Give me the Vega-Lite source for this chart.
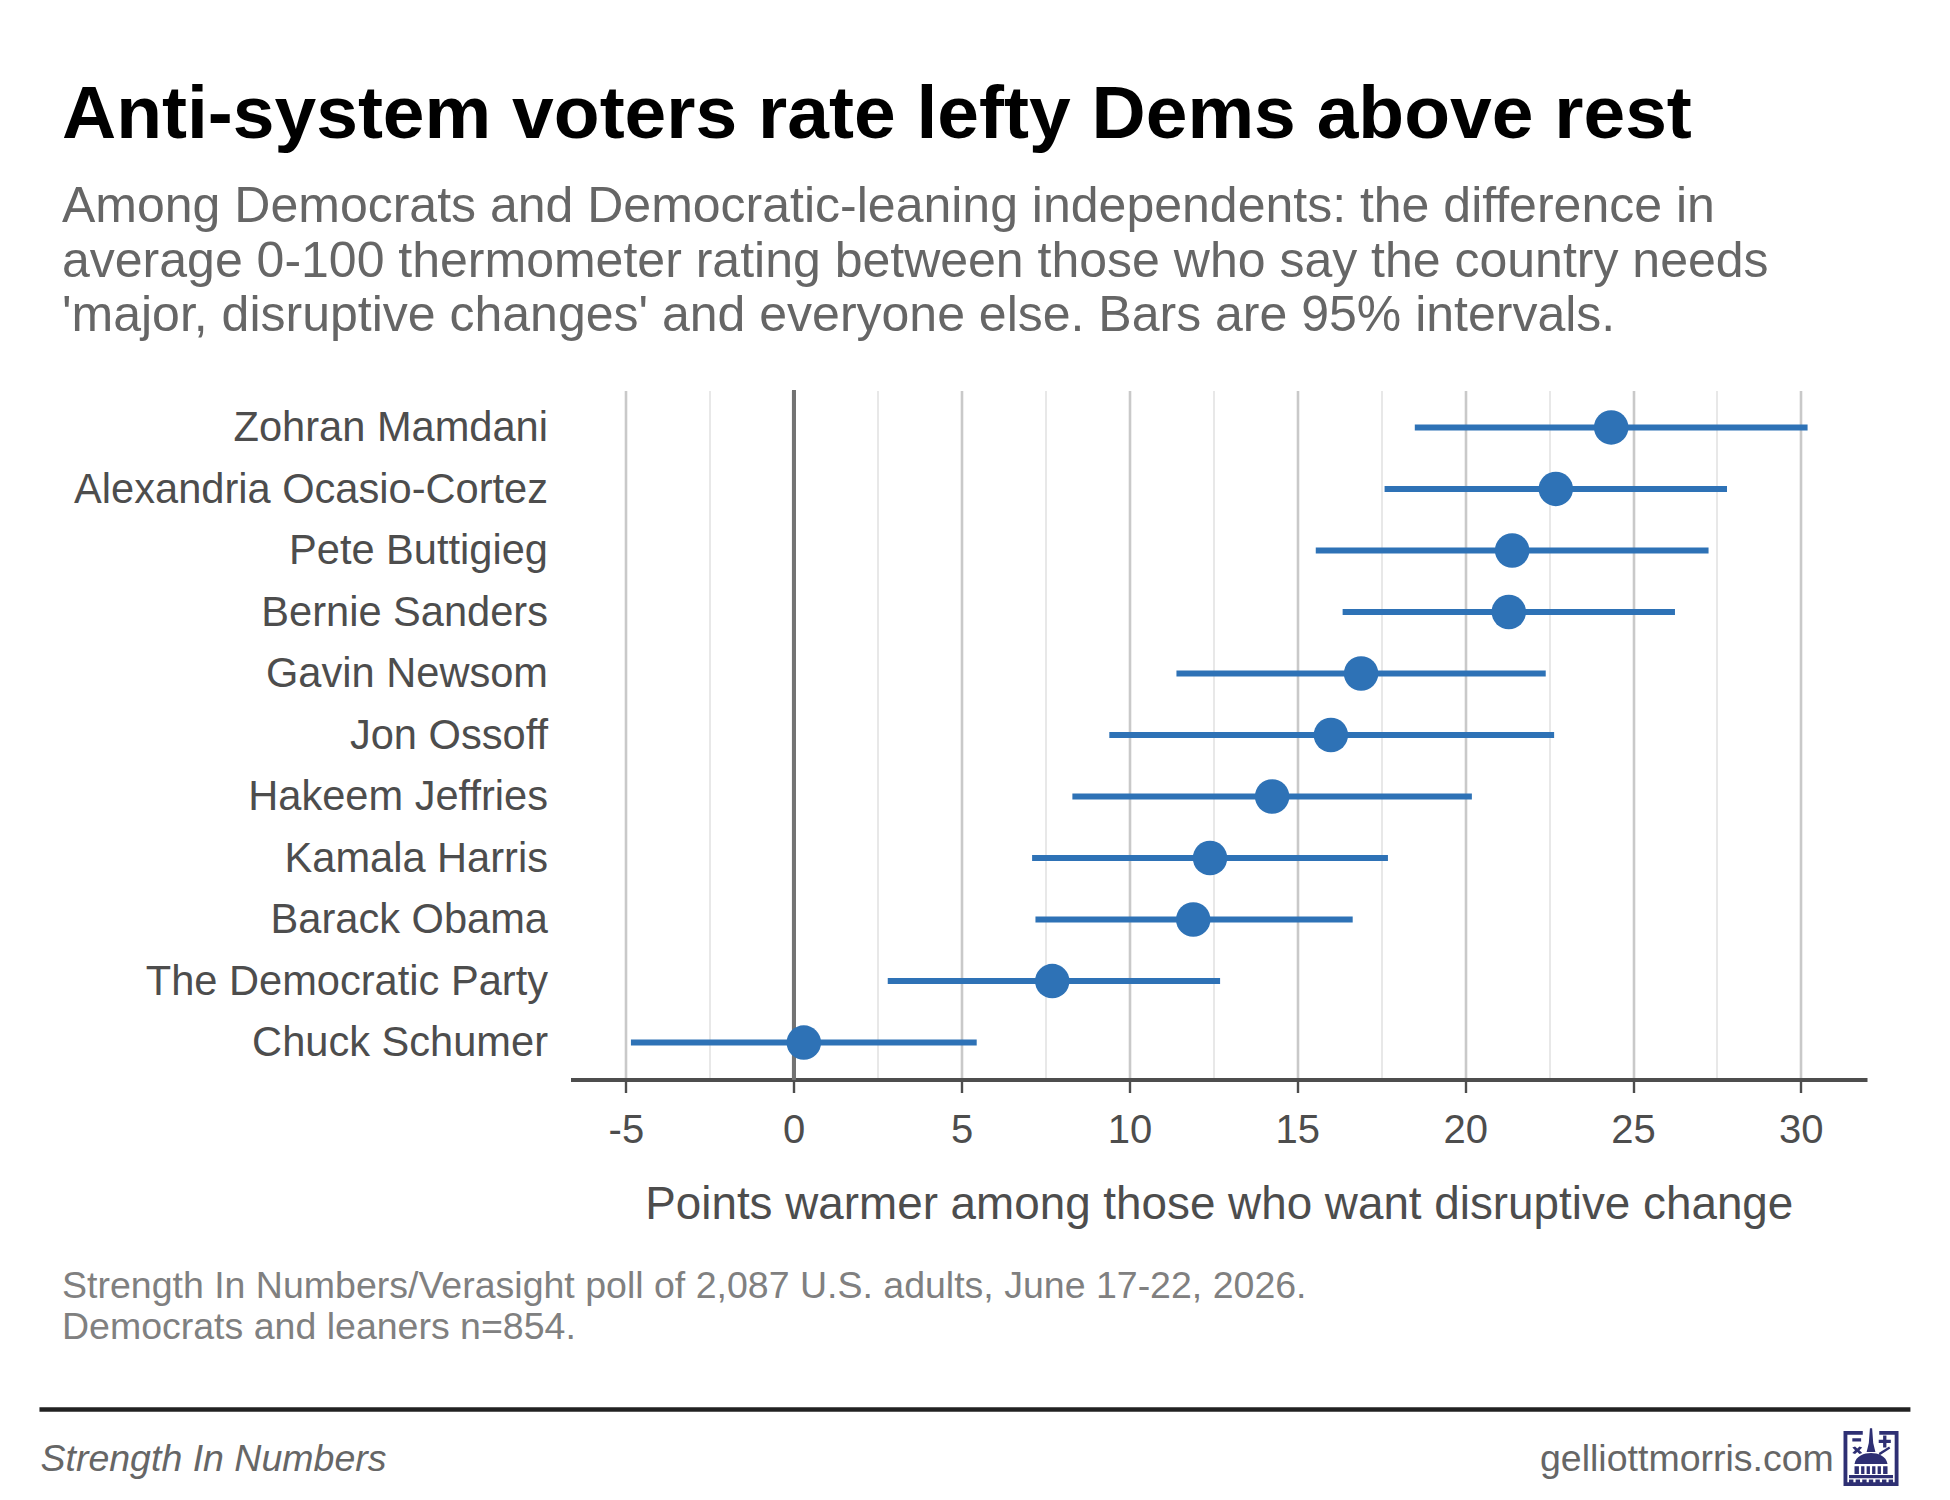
{
  "$schema": "https://vega.github.io/schema/vega-lite/v6.json",
  "background": "white",
  "padding": {"left": 36.5, "top": 77.5, "right": 0, "bottom": 0},
  "config": {
    "font": "Liberation Sans",
    "view": {"stroke": null},
    "concat": {"spacing": 40}
  },
  "title": {
    "text": "Anti-system voters rate lefty Dems above rest",
    "subtitle": [
      "Among Democrats and Democratic-leaning independents: the difference in",
      "average 0-100 thermometer rating between those who say the country needs",
      "'major, disruptive changes' and everyone else. Bars are 95% intervals."
    ],
    "anchor": "start",
    "frame": "group",
    "dx": -508.5,
    "fontSize": 75,
    "fontWeight": "bold",
    "color": "#000000",
    "subtitleFontSize": 50,
    "subtitleColor": "#666666",
    "subtitleLineHeight": 54.7,
    "subtitlePadding": 28.3,
    "offset": 46.5
  },
  "vconcat": [
    {
      "width": 1296.5,
      "height": 689,
      "data": {
        "values": [
          {"name": "Zohran Mamdani", "low": 18.5, "diff": 24.35, "high": 30.2},
          {"name": "Alexandria Ocasio-Cortez", "low": 17.6, "diff": 22.7, "high": 27.8},
          {"name": "Pete Buttigieg", "low": 15.55, "diff": 21.4, "high": 27.25},
          {"name": "Bernie Sanders", "low": 16.35, "diff": 21.3, "high": 26.25},
          {"name": "Gavin Newsom", "low": 11.4, "diff": 16.9, "high": 22.4},
          {"name": "Jon Ossoff", "low": 9.4, "diff": 16.0, "high": 22.65},
          {"name": "Hakeem Jeffries", "low": 8.3, "diff": 14.25, "high": 20.2},
          {"name": "Kamala Harris", "low": 7.1, "diff": 12.4, "high": 17.7},
          {"name": "Barack Obama", "low": 7.2, "diff": 11.9, "high": 16.65},
          {"name": "The Democratic Party", "low": 2.8, "diff": 7.7, "high": 12.7},
          {"name": "Chuck Schumer", "low": -4.85, "diff": 0.3, "high": 5.45}
        ]
      },
      "encoding": {
        "y": {
          "field": "name",
          "type": "nominal",
          "sort": null,
          "title": null,
          "scale": {"type": "point", "padding": 0.6},
          "axis": {
            "domain": false,
            "ticks": false,
            "grid": false,
            "labelFontSize": 41.6,
            "labelColor": "#4d4d4d",
            "labelPadding": 23,
            "labelLimit": 600,
            "labelOffset": 1.2,
            "minExtent": 530.5
          }
        }
      },
      "layer": [
        {
          "mark": {"type": "rule", "color": "#737373", "strokeWidth": 3.5},
          "encoding": {"x": {"datum": 0}, "y": null}
        },
        {
          "mark": {"type": "rule", "color": "#2e72b6", "strokeWidth": 6},
          "encoding": {
            "x": {
              "field": "low",
              "type": "quantitative",
              "title": "Points warmer among those who want disruptive change",
              "scale": {"domain": [-6.65, 31.97], "nice": false, "zero": false},
              "axis": {
                "values": [-5, -2.5, 0, 2.5, 5, 7.5, 10, 12.5, 15, 17.5, 20, 22.5, 25, 27.5, 30],
                "labelExpr": "datum.value % 5 === 0 ? '' + datum.value : ''",
                "labelOverlap": false,
                "labelFontSize": 40,
                "labelColor": "#4d4d4d",
                "labelPadding": 18,
                "domainColor": "#4d4d4d",
                "domainWidth": 4.2,
                "tickColor": "#4d4d4d",
                "tickWidth": 2.4,
                "tickSize": 13,
                "tickOpacity": {"condition": {"test": "datum.value % 5 === 0", "value": 1}, "value": 0},
                "grid": true,
                "gridColor": {"condition": {"test": "datum.value % 5 === 0", "value": "#c9c9c9"}, "value": "#e8e8e8"},
                "gridWidth": {"condition": {"test": "datum.value % 5 === 0", "value": 2.6}, "value": 2},
                "titleFontSize": 45.8,
                "titleFontWeight": "normal",
                "titleColor": "#4d4d4d",
                "titlePadding": 32
              }
            },
            "x2": {"field": "high"}
          }
        },
        {
          "mark": {"type": "circle", "color": "#2e72b6", "size": 1190, "opacity": 1},
          "encoding": {"x": {"field": "diff", "type": "quantitative"}}
        }
      ]
    },
    {
      "width": 1296.5,
      "height": 80,
      "title": {
        "text": [
          "Strength In Numbers/Verasight poll of 2,087 U.S. adults, June 17-22, 2026.",
          "Democrats and leaners n=854."
        ],
        "anchor": "start",
        "frame": "group",
        "dx": -508.5,
        "fontSize": 37.5,
        "fontWeight": "normal",
        "color": "#808080",
        "lineHeight": 41,
        "offset": 60.5
      },
      "data": {"values": [{"site": "gelliottmorris.com", "brand": "Strength In Numbers"}]},
      "encoding": {
        "x": {
          "datum": -0.4088,
          "type": "quantitative",
          "title": null,
          "scale": {"domain": [0, 1], "nice": false},
          "axis": null
        },
        "y": {
          "datum": 0.625,
          "type": "quantitative",
          "title": null,
          "scale": {"domain": [1, 0], "nice": false},
          "axis": null
        }
      },
      "layer": [
        {
          "mark": {"type": "rule", "color": "#222222", "strokeWidth": 4.4},
          "encoding": {
            "x": {"datum": -0.4096, "type": "quantitative"},
            "x2": {"datum": 1.0335},
            "y": {"datum": 0, "type": "quantitative"}
          }
        },
        {
          "mark": {"type": "text", "align": "left", "baseline": "middle", "fontSize": 37.5, "fontStyle": "italic", "color": "#666666"},
          "encoding": {"text": {"field": "brand"}}
        },
        {
          "mark": {"type": "text", "align": "right", "baseline": "middle", "fontSize": 37.5, "color": "#666666"},
          "encoding": {"x": {"datum": 0.9744, "type": "quantitative"}, "text": {"field": "site"}}
        },
        {
          "mark": {
            "type": "point",
            "filled": true,
            "color": "#2e2f73",
            "opacity": 1,
            "size": 12100,
            "shape": "M-0.5 -0.5H-0.15V-0.43H-0.43V0.43H0.43V-0.43H0.15V-0.5H0.5V0.5H-0.5Z M-0.02 -0.55H0.02L0.04 -0.28L0.08 -0.12H-0.08L-0.04 -0.28Z M-0.34 -0.37H-0.18V-0.31H-0.34Z M0.14 -0.34H0.22V-0.42H0.28V-0.34H0.36V-0.28H0.28V-0.2H0.22V-0.28H0.14Z M-0.34 -0.2L-0.29 -0.22L-0.25 -0.18L-0.21 -0.22L-0.16 -0.2L-0.21 -0.15L-0.16 -0.1L-0.21 -0.08L-0.25 -0.12L-0.29 -0.08L-0.34 -0.1L-0.29 -0.15Z M0.14 -0.1L0.33 -0.22L0.35 -0.18L0.16 -0.06Z M-0.3 0.1C-0.28 -0.05 -0.12 -0.1 0 -0.1C0.12 -0.1 0.28 -0.05 0.3 0.1Z M-0.3 0.14H-0.22V0.28H-0.3Z M-0.18 0.14H-0.12V0.28H-0.18Z M-0.08 0.14H-0.02V0.28H-0.08Z M0.02 0.14H0.08V0.28H0.02Z M0.12 0.14H0.18V0.28H0.12Z M0.22 0.14H0.3V0.28H0.22Z M-0.4 0.3H0.4V0.36H-0.4Z M-0.4 0.38H-0.32V0.43H-0.4Z M-0.28 0.38H-0.2V0.43H-0.28Z M-0.16 0.38H-0.08V0.43H-0.16Z M-0.04 0.38H0.04V0.43H-0.04Z M0.08 0.38H0.16V0.43H0.08Z M0.2 0.38H0.28V0.43H0.2Z M0.32 0.38H0.4V0.43H0.32Z"
          },
          "encoding": {"x": {"datum": 1.0031, "type": "quantitative"}, "y": {"datum": 0.6125, "type": "quantitative"}}
        }
      ]
    }
  ]
}
